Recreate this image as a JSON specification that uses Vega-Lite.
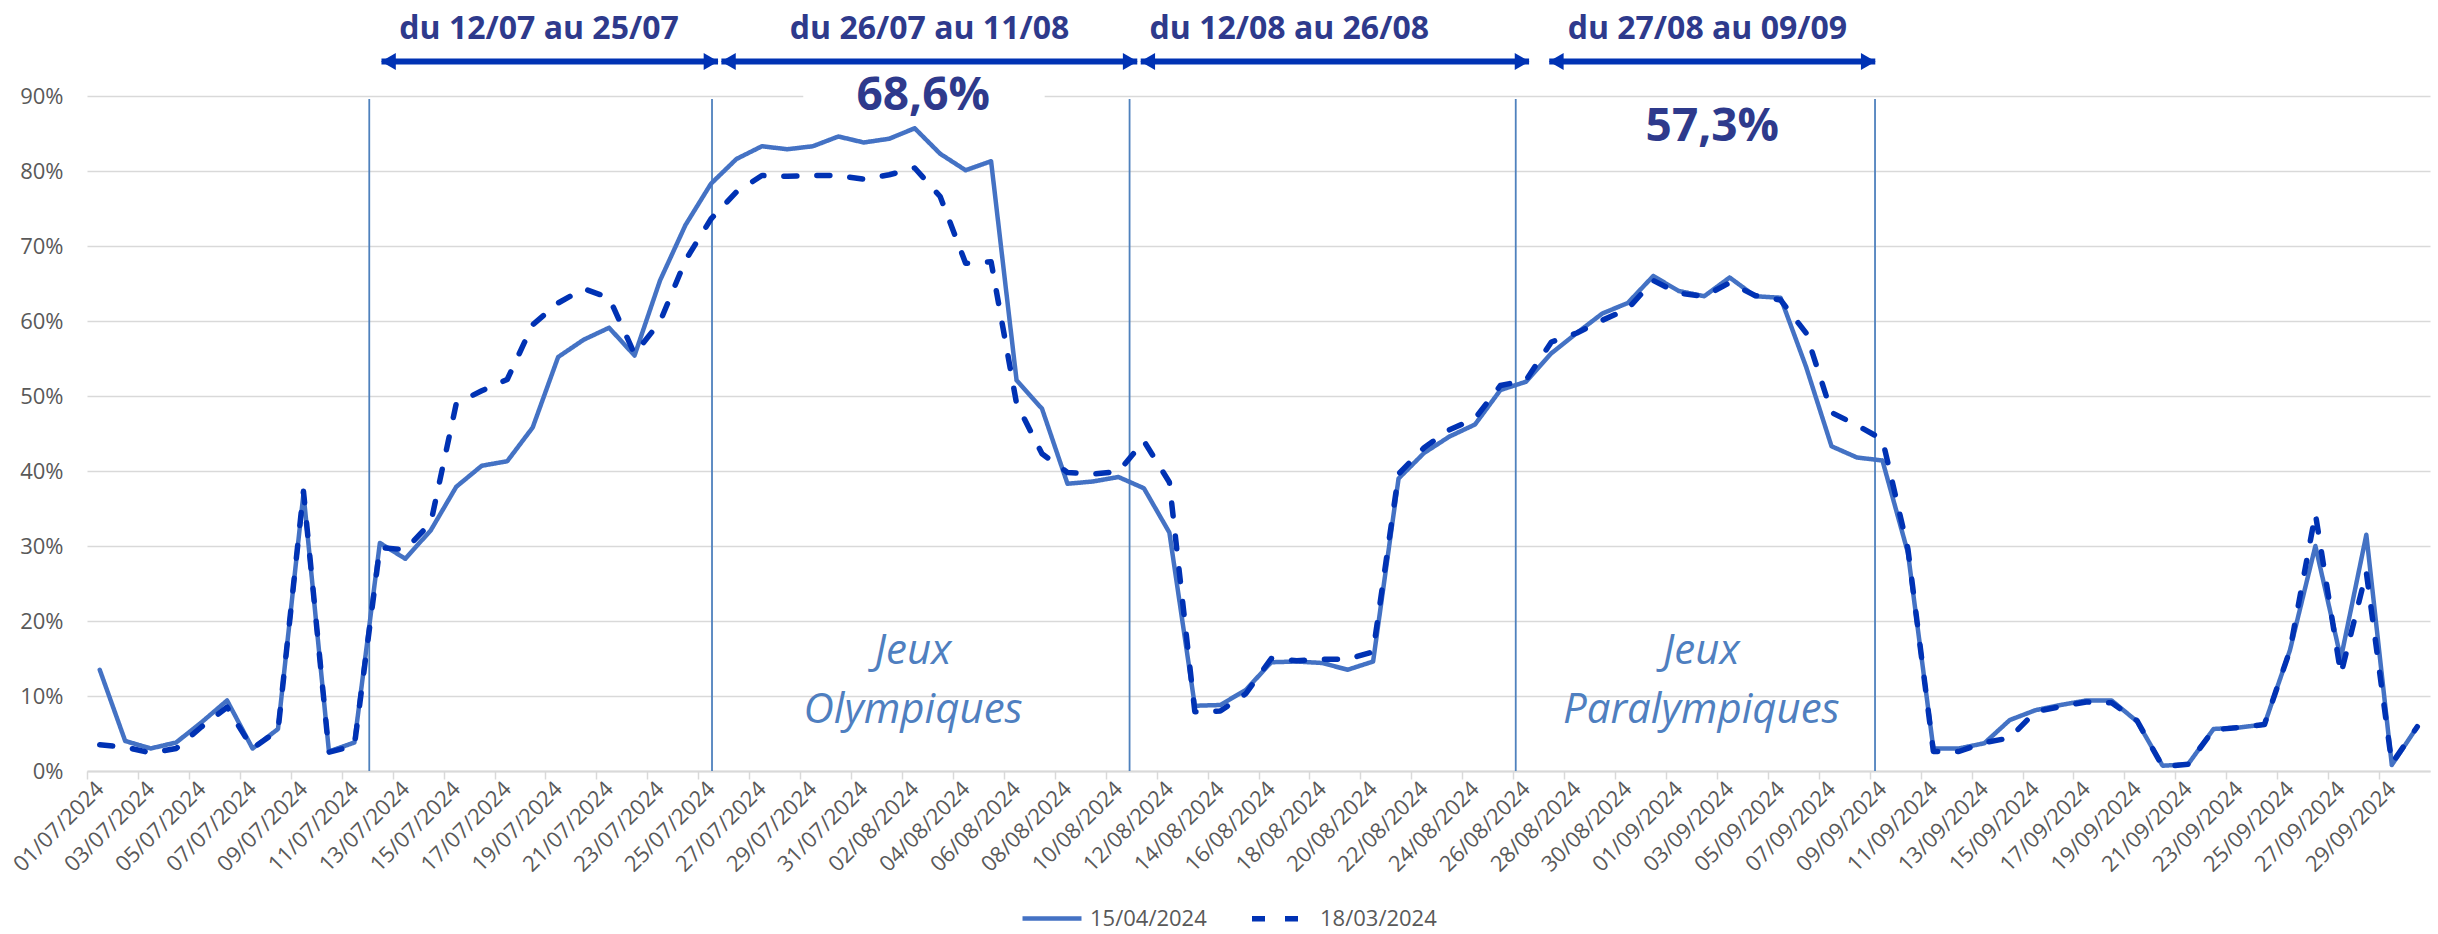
{
  "$schema": "https://vega.github.io/schema/vega-lite/v6.json",
  "width": 2343,
  "height": 771,
  "autosize": {"type": "none"},
  "padding": {"left": 87, "top": 0, "right": 8, "bottom": 163},
  "background": "white",
  "config": {"view": {"stroke": null}, "font": "Open Sans"},
  "datasets": {
    "occ": [
      {"date": "2024-07-01", "15/04/2024": 13.5, "18/03/2024": 3.5},
      {"date": "2024-07-02", "15/04/2024": 4.0, "18/03/2024": 3.2},
      {"date": "2024-07-03", "15/04/2024": 3.0, "18/03/2024": 2.4},
      {"date": "2024-07-04", "15/04/2024": 3.8, "18/03/2024": 3.0},
      {"date": "2024-07-05", "15/04/2024": 6.5, "18/03/2024": 5.9},
      {"date": "2024-07-06", "15/04/2024": 9.4, "18/03/2024": 8.5},
      {"date": "2024-07-07", "15/04/2024": 3.0, "18/03/2024": 3.0},
      {"date": "2024-07-08", "15/04/2024": 5.6, "18/03/2024": 5.4},
      {"date": "2024-07-09", "15/04/2024": 37.0, "18/03/2024": 37.3},
      {"date": "2024-07-10", "15/04/2024": 2.6, "18/03/2024": 2.5},
      {"date": "2024-07-11", "15/04/2024": 3.8, "18/03/2024": 3.4},
      {"date": "2024-07-12", "15/04/2024": 30.4, "18/03/2024": 29.8},
      {"date": "2024-07-13", "15/04/2024": 28.3, "18/03/2024": 29.5},
      {"date": "2024-07-14", "15/04/2024": 32.1, "18/03/2024": 33.1},
      {"date": "2024-07-15", "15/04/2024": 37.9, "18/03/2024": 49.0},
      {"date": "2024-07-16", "15/04/2024": 40.7, "18/03/2024": 50.7},
      {"date": "2024-07-17", "15/04/2024": 41.3, "18/03/2024": 52.2},
      {"date": "2024-07-18", "15/04/2024": 45.8, "18/03/2024": 59.5},
      {"date": "2024-07-19", "15/04/2024": 55.2, "18/03/2024": 62.4},
      {"date": "2024-07-20", "15/04/2024": 57.5, "18/03/2024": 64.3},
      {"date": "2024-07-21", "15/04/2024": 59.1, "18/03/2024": 63.1},
      {"date": "2024-07-22", "15/04/2024": 55.4, "18/03/2024": 55.6},
      {"date": "2024-07-23", "15/04/2024": 65.4, "18/03/2024": 59.9},
      {"date": "2024-07-24", "15/04/2024": 72.8, "18/03/2024": 68.1},
      {"date": "2024-07-25", "15/04/2024": 78.3, "18/03/2024": 73.6},
      {"date": "2024-07-26", "15/04/2024": 81.6, "18/03/2024": 77.2},
      {"date": "2024-07-27", "15/04/2024": 83.3, "18/03/2024": 79.4},
      {"date": "2024-07-28", "15/04/2024": 82.9, "18/03/2024": 79.3},
      {"date": "2024-07-29", "15/04/2024": 83.3, "18/03/2024": 79.4},
      {"date": "2024-07-30", "15/04/2024": 84.6, "18/03/2024": 79.4},
      {"date": "2024-07-31", "15/04/2024": 83.8, "18/03/2024": 78.9},
      {"date": "2024-08-01", "15/04/2024": 84.3, "18/03/2024": 79.5},
      {"date": "2024-08-02", "15/04/2024": 85.7, "18/03/2024": 80.4},
      {"date": "2024-08-03", "15/04/2024": 82.3, "18/03/2024": 76.6},
      {"date": "2024-08-04", "15/04/2024": 80.1, "18/03/2024": 67.7},
      {"date": "2024-08-05", "15/04/2024": 81.3, "18/03/2024": 67.9},
      {"date": "2024-08-06", "15/04/2024": 52.1, "18/03/2024": 49.0},
      {"date": "2024-08-07", "15/04/2024": 48.3, "18/03/2024": 42.3},
      {"date": "2024-08-08", "15/04/2024": 38.3, "18/03/2024": 39.8},
      {"date": "2024-08-09", "15/04/2024": 38.6, "18/03/2024": 39.6},
      {"date": "2024-08-10", "15/04/2024": 39.2, "18/03/2024": 39.9},
      {"date": "2024-08-11", "15/04/2024": 37.7, "18/03/2024": 44.0},
      {"date": "2024-08-12", "15/04/2024": 31.8, "18/03/2024": 38.5},
      {"date": "2024-08-13", "15/04/2024": 8.7, "18/03/2024": 7.9},
      {"date": "2024-08-14", "15/04/2024": 8.8, "18/03/2024": 8.0},
      {"date": "2024-08-15", "15/04/2024": 10.8, "18/03/2024": 10.3},
      {"date": "2024-08-16", "15/04/2024": 14.5, "18/03/2024": 15.0},
      {"date": "2024-08-17", "15/04/2024": 14.6, "18/03/2024": 14.7},
      {"date": "2024-08-18", "15/04/2024": 14.4, "18/03/2024": 14.9},
      {"date": "2024-08-19", "15/04/2024": 13.5, "18/03/2024": 14.9},
      {"date": "2024-08-20", "15/04/2024": 14.6, "18/03/2024": 15.9},
      {"date": "2024-08-21", "15/04/2024": 39.0, "18/03/2024": 39.6},
      {"date": "2024-08-22", "15/04/2024": 42.4, "18/03/2024": 43.1},
      {"date": "2024-08-23", "15/04/2024": 44.6, "18/03/2024": 45.5},
      {"date": "2024-08-24", "15/04/2024": 46.2, "18/03/2024": 47.0},
      {"date": "2024-08-25", "15/04/2024": 50.8, "18/03/2024": 51.4},
      {"date": "2024-08-26", "15/04/2024": 51.9, "18/03/2024": 52.1},
      {"date": "2024-08-27", "15/04/2024": 55.7, "18/03/2024": 57.2},
      {"date": "2024-08-28", "15/04/2024": 58.4, "18/03/2024": 58.4},
      {"date": "2024-08-29", "15/04/2024": 61.0, "18/03/2024": 60.1},
      {"date": "2024-08-30", "15/04/2024": 62.4, "18/03/2024": 61.6},
      {"date": "2024-08-31", "15/04/2024": 66.0, "18/03/2024": 65.4},
      {"date": "2024-09-01", "15/04/2024": 64.0, "18/03/2024": 63.7},
      {"date": "2024-09-02", "15/04/2024": 63.3, "18/03/2024": 63.3},
      {"date": "2024-09-03", "15/04/2024": 65.8, "18/03/2024": 65.1},
      {"date": "2024-09-04", "15/04/2024": 63.3, "18/03/2024": 63.4},
      {"date": "2024-09-05", "15/04/2024": 63.1, "18/03/2024": 62.8},
      {"date": "2024-09-06", "15/04/2024": 53.9, "18/03/2024": 58.4},
      {"date": "2024-09-07", "15/04/2024": 43.3, "18/03/2024": 47.8},
      {"date": "2024-09-08", "15/04/2024": 41.8, "18/03/2024": 46.1},
      {"date": "2024-09-09", "15/04/2024": 41.4, "18/03/2024": 44.2},
      {"date": "2024-09-10", "15/04/2024": 29.1, "18/03/2024": 29.6},
      {"date": "2024-09-11", "15/04/2024": 3.0, "18/03/2024": 2.6},
      {"date": "2024-09-12", "15/04/2024": 3.0, "18/03/2024": 2.6},
      {"date": "2024-09-13", "15/04/2024": 3.7, "18/03/2024": 3.8},
      {"date": "2024-09-14", "15/04/2024": 6.8, "18/03/2024": 4.4},
      {"date": "2024-09-15", "15/04/2024": 8.1, "18/03/2024": 7.9},
      {"date": "2024-09-16", "15/04/2024": 8.8, "18/03/2024": 8.6},
      {"date": "2024-09-17", "15/04/2024": 9.4, "18/03/2024": 9.2},
      {"date": "2024-09-18", "15/04/2024": 9.4, "18/03/2024": 9.1},
      {"date": "2024-09-19", "15/04/2024": 6.6, "18/03/2024": 6.7},
      {"date": "2024-09-20", "15/04/2024": 0.7, "18/03/2024": 0.6},
      {"date": "2024-09-21", "15/04/2024": 0.9, "18/03/2024": 0.9},
      {"date": "2024-09-22", "15/04/2024": 5.6, "18/03/2024": 5.5},
      {"date": "2024-09-23", "15/04/2024": 5.8, "18/03/2024": 5.8},
      {"date": "2024-09-24", "15/04/2024": 6.2, "18/03/2024": 6.2},
      {"date": "2024-09-25", "15/04/2024": 16.1, "18/03/2024": 16.1},
      {"date": "2024-09-26", "15/04/2024": 30.0, "18/03/2024": 34.3},
      {"date": "2024-09-27", "15/04/2024": 15.0, "18/03/2024": 12.9},
      {"date": "2024-09-28", "15/04/2024": 31.5, "18/03/2024": 26.5},
      {"date": "2024-09-29", "15/04/2024": 0.8, "18/03/2024": 1.0},
      {"date": "2024-09-30", "15/04/2024": 5.9, "18/03/2024": 5.9}
    ],
    "periods": [
      {"from": "2024-07-12T01:30:00Z", "to": "2024-07-25T06:40:00Z", "mid": "2024-07-18T06:00:00Z", "label": "du 12/07 au 25/07"},
      {"from": "2024-07-25T09:50:00Z", "to": "2024-08-10T17:45:00Z", "mid": "2024-08-02T14:00:00Z", "label": "du 26/07 au 11/08"},
      {"from": "2024-08-10T21:00:00Z", "to": "2024-08-26T03:00:00Z", "mid": "2024-08-16T17:00:00Z", "label": "du 12/08 au 26/08"},
      {"from": "2024-08-26T22:00:00Z", "to": "2024-09-08T17:15:00Z", "mid": "2024-09-02T03:00:00Z", "label": "du 27/08 au 09/09"}
    ],
    "vlines": [
      {"date": "2024-07-11T14:00:00Z"},
      {"date": "2024-07-25T01:00:00Z"},
      {"date": "2024-08-10T10:30:00Z"},
      {"date": "2024-08-25T14:25:00Z"},
      {"date": "2024-09-08T17:00:00Z"}
    ],
    "rates": [
      {"date": "2024-08-02T08:00:00Z", "label": "68,6%", "level": 90.0},
      {"date": "2024-09-02T07:40:00Z", "label": "57,3%", "level": 85.9}
    ],
    "games": [
      {"date": "2024-08-01T22:30:00Z", "label": "Jeux\nOlympiques"},
      {"date": "2024-09-01T21:20:00Z", "label": "Jeux\nParalympiques"}
    ],
    "box": [
      {"start": "2024-07-28T15:00:00Z", "end": "2024-08-07T02:30:00Z"}
    ]
  },
  "layer": [
    {
      "data": {"name": "box"},
      "mark": {"type": "rect", "color": "white"},
      "encoding": {
        "x": {"field": "start", "type": "temporal", "title": null, "scale": {"type": "utc", "domain": [{"year": 2024, "month": 6, "date": 30, "hours": 12, "utc": true}, {"year": 2024, "month": 9, "date": 30, "hours": 12, "utc": true}]}},
        "x2": {"field": "end"},
        "y": {"datum": 87.6, "type": "quantitative", "title": null, "scale": {"domain": [0, 102.8], "nice": false, "zero": true}},
        "y2": {"datum": 93}
      }
    },
    {
      "data": {"name": "vlines"},
      "mark": {"type": "rule", "color": "#4F81BD", "strokeWidth": 1.8},
      "encoding": {
        "x": {"field": "date", "type": "temporal", "title": null, "scale": {"type": "utc", "domain": [{"year": 2024, "month": 6, "date": 30, "hours": 12, "utc": true}, {"year": 2024, "month": 9, "date": 30, "hours": 12, "utc": true}]}},
        "y": {"datum": 0, "type": "quantitative", "title": null, "scale": {"domain": [0, 102.8], "nice": false, "zero": true}},
        "y2": {"datum": 89.6}
      }
    },
    {
      "data": {"name": "occ"},
      "transform": [{"fold": ["15/04/2024", "18/03/2024"], "as": ["series", "value"]}],
      "mark": {"type": "line", "strokeCap": "round", "strokeJoin": "round"},
      "encoding": {
        "x": {
          "field": "date", "type": "temporal", "title": null,
          "scale": {"type": "utc", "domain": [{"year": 2024, "month": 6, "date": 30, "hours": 12, "utc": true}, {"year": 2024, "month": 9, "date": 30, "hours": 12, "utc": true}]},
          "axis": {
            "values": [
              {"year": 2024, "month": 7, "date": 1, "utc": true}, {"year": 2024, "month": 7, "date": 3, "utc": true}, {"year": 2024, "month": 7, "date": 5, "utc": true}, {"year": 2024, "month": 7, "date": 7, "utc": true},
              {"year": 2024, "month": 7, "date": 9, "utc": true}, {"year": 2024, "month": 7, "date": 11, "utc": true}, {"year": 2024, "month": 7, "date": 13, "utc": true}, {"year": 2024, "month": 7, "date": 15, "utc": true},
              {"year": 2024, "month": 7, "date": 17, "utc": true}, {"year": 2024, "month": 7, "date": 19, "utc": true}, {"year": 2024, "month": 7, "date": 21, "utc": true}, {"year": 2024, "month": 7, "date": 23, "utc": true},
              {"year": 2024, "month": 7, "date": 25, "utc": true}, {"year": 2024, "month": 7, "date": 27, "utc": true}, {"year": 2024, "month": 7, "date": 29, "utc": true}, {"year": 2024, "month": 7, "date": 31, "utc": true},
              {"year": 2024, "month": 8, "date": 2, "utc": true}, {"year": 2024, "month": 8, "date": 4, "utc": true}, {"year": 2024, "month": 8, "date": 6, "utc": true}, {"year": 2024, "month": 8, "date": 8, "utc": true},
              {"year": 2024, "month": 8, "date": 10, "utc": true}, {"year": 2024, "month": 8, "date": 12, "utc": true}, {"year": 2024, "month": 8, "date": 14, "utc": true}, {"year": 2024, "month": 8, "date": 16, "utc": true},
              {"year": 2024, "month": 8, "date": 18, "utc": true}, {"year": 2024, "month": 8, "date": 20, "utc": true}, {"year": 2024, "month": 8, "date": 22, "utc": true}, {"year": 2024, "month": 8, "date": 24, "utc": true},
              {"year": 2024, "month": 8, "date": 26, "utc": true}, {"year": 2024, "month": 8, "date": 28, "utc": true}, {"year": 2024, "month": 8, "date": 30, "utc": true},
              {"year": 2024, "month": 9, "date": 1, "utc": true}, {"year": 2024, "month": 9, "date": 3, "utc": true}, {"year": 2024, "month": 9, "date": 5, "utc": true}, {"year": 2024, "month": 9, "date": 7, "utc": true},
              {"year": 2024, "month": 9, "date": 9, "utc": true}, {"year": 2024, "month": 9, "date": 11, "utc": true}, {"year": 2024, "month": 9, "date": 13, "utc": true}, {"year": 2024, "month": 9, "date": 15, "utc": true},
              {"year": 2024, "month": 9, "date": 17, "utc": true}, {"year": 2024, "month": 9, "date": 19, "utc": true}, {"year": 2024, "month": 9, "date": 21, "utc": true}, {"year": 2024, "month": 9, "date": 23, "utc": true},
              {"year": 2024, "month": 9, "date": 25, "utc": true}, {"year": 2024, "month": 9, "date": 27, "utc": true}, {"year": 2024, "month": 9, "date": 29, "utc": true}
            ],
            "format": "%d/%m/%Y",
            "labelAngle": -45, "labelAlign": "right", "labelBaseline": "middle",
            "labelFont": "Open Sans", "labelFontSize": 22, "labelColor": "#595959",
            "labelOverlap": false, "labelBound": false, "labelFlush": false, "labelPadding": 6,
            "tickOffset": -12.7, "labelOffset": 12.7, "tickSize": 8, "tickColor": "#D9D9D9", "tickWidth": 1.5,
            "domainColor": "#D9D9D9", "domainWidth": 2, "grid": false
          }
        },
        "y": {
          "field": "value", "type": "quantitative", "title": null,
          "scale": {"domain": [0, 102.8], "nice": false, "zero": true},
          "axis": {
            "values": [0, 10, 20, 30, 40, 50, 60, 70, 80, 90],
            "labelExpr": "datum.value + '%'",
            "grid": true, "gridColor": "#D9D9D9", "gridWidth": 1.5,
            "domain": false, "ticks": false,
            "labelFont": "Open Sans", "labelFontSize": 22, "labelColor": "#595959", "labelPadding": 24
          }
        },
        "color": {
          "field": "series", "type": "nominal",
          "scale": {"domain": ["15/04/2024", "18/03/2024"], "range": ["#4472C4", "#0032B4"]},
          "legend": {"title": null, "orient": "none", "legendX": 933, "legendY": 886, "direction": "horizontal", "symbolType": "stroke", "symbolSize": 3481, "symbolStrokeWidth": 5, "labelFont": "Open Sans", "labelFontSize": 22, "labelColor": "#595959", "labelOffset": 6, "columnPadding": 34}
        },
        "strokeDash": {
          "field": "series", "type": "nominal",
          "scale": {"domain": ["15/04/2024", "18/03/2024"], "range": [[1, 0], [13, 20]]},
          "legend": {"title": null, "orient": "none", "legendX": 933, "legendY": 886, "direction": "horizontal", "symbolType": "stroke", "symbolSize": 3481, "symbolStrokeWidth": 5, "labelFont": "Open Sans", "labelFontSize": 22, "labelColor": "#595959", "labelOffset": 6, "columnPadding": 34}
        },
        "strokeWidth": {
          "field": "series", "type": "nominal",
          "scale": {"domain": ["15/04/2024", "18/03/2024"], "range": [4.5, 5.5]},
          "legend": null
        }
      }
    },
    {
      "data": {"name": "periods"},
      "mark": {"type": "rule", "color": "#0032B4", "strokeWidth": 6},
      "encoding": {
        "x": {"field": "from", "type": "temporal", "title": null, "scale": {"type": "utc", "domain": [{"year": 2024, "month": 6, "date": 30, "hours": 12, "utc": true}, {"year": 2024, "month": 9, "date": 30, "hours": 12, "utc": true}]}},
        "x2": {"field": "to"},
        "y": {"datum": 94.6, "type": "quantitative", "title": null, "scale": {"domain": [0, 102.8], "nice": false, "zero": true}}
      }
    },
    {
      "data": {"name": "periods"},
      "mark": {"type": "point", "shape": "triangle-left", "filled": true, "size": 289, "color": "#0032B4", "opacity": 1, "xOffset": 7},
      "encoding": {
        "x": {"field": "from", "type": "temporal", "title": null, "scale": {"type": "utc", "domain": [{"year": 2024, "month": 6, "date": 30, "hours": 12, "utc": true}, {"year": 2024, "month": 9, "date": 30, "hours": 12, "utc": true}]}},
        "y": {"datum": 94.6, "type": "quantitative", "title": null, "scale": {"domain": [0, 102.8], "nice": false, "zero": true}}
      }
    },
    {
      "data": {"name": "periods"},
      "mark": {"type": "point", "shape": "triangle-right", "filled": true, "size": 289, "color": "#0032B4", "opacity": 1, "xOffset": -7},
      "encoding": {
        "x": {"field": "to", "type": "temporal", "title": null, "scale": {"type": "utc", "domain": [{"year": 2024, "month": 6, "date": 30, "hours": 12, "utc": true}, {"year": 2024, "month": 9, "date": 30, "hours": 12, "utc": true}]}},
        "y": {"datum": 94.6, "type": "quantitative", "title": null, "scale": {"domain": [0, 102.8], "nice": false, "zero": true}}
      }
    },
    {
      "data": {"name": "periods"},
      "mark": {"type": "text", "font": "Open Sans", "fontWeight": "bold", "fontSize": 32, "color": "#2E3A8C", "align": "center", "baseline": "middle"},
      "encoding": {
        "x": {"field": "mid", "type": "temporal", "title": null, "scale": {"type": "utc", "domain": [{"year": 2024, "month": 6, "date": 30, "hours": 12, "utc": true}, {"year": 2024, "month": 9, "date": 30, "hours": 12, "utc": true}]}},
        "y": {"datum": 99.0, "type": "quantitative", "title": null, "scale": {"domain": [0, 102.8], "nice": false, "zero": true}},
        "text": {"field": "label"}
      }
    },
    {
      "data": {"name": "rates"},
      "mark": {"type": "text", "font": "Open Sans", "fontWeight": "bold", "fontSize": 46, "color": "#2E3A8C", "align": "center", "baseline": "middle"},
      "encoding": {
        "x": {"field": "date", "type": "temporal", "title": null, "scale": {"type": "utc", "domain": [{"year": 2024, "month": 6, "date": 30, "hours": 12, "utc": true}, {"year": 2024, "month": 9, "date": 30, "hours": 12, "utc": true}]}},
        "y": {"field": "level", "type": "quantitative", "title": null, "scale": {"domain": [0, 102.8], "nice": false, "zero": true}},
        "text": {"field": "label"}
      }
    },
    {
      "data": {"name": "games"},
      "mark": {"type": "text", "font": "Open Sans", "fontStyle": "italic", "fontSize": 42, "color": "#4F7FC0", "align": "center", "baseline": "middle", "lineBreak": "\n", "lineHeight": 59},
      "encoding": {
        "x": {"field": "date", "type": "temporal", "title": null, "scale": {"type": "utc", "domain": [{"year": 2024, "month": 6, "date": 30, "hours": 12, "utc": true}, {"year": 2024, "month": 9, "date": 30, "hours": 12, "utc": true}]}},
        "y": {"datum": 16.0, "type": "quantitative", "title": null, "scale": {"domain": [0, 102.8], "nice": false, "zero": true}},
        "text": {"field": "label"}
      }
    }
  ]
}
